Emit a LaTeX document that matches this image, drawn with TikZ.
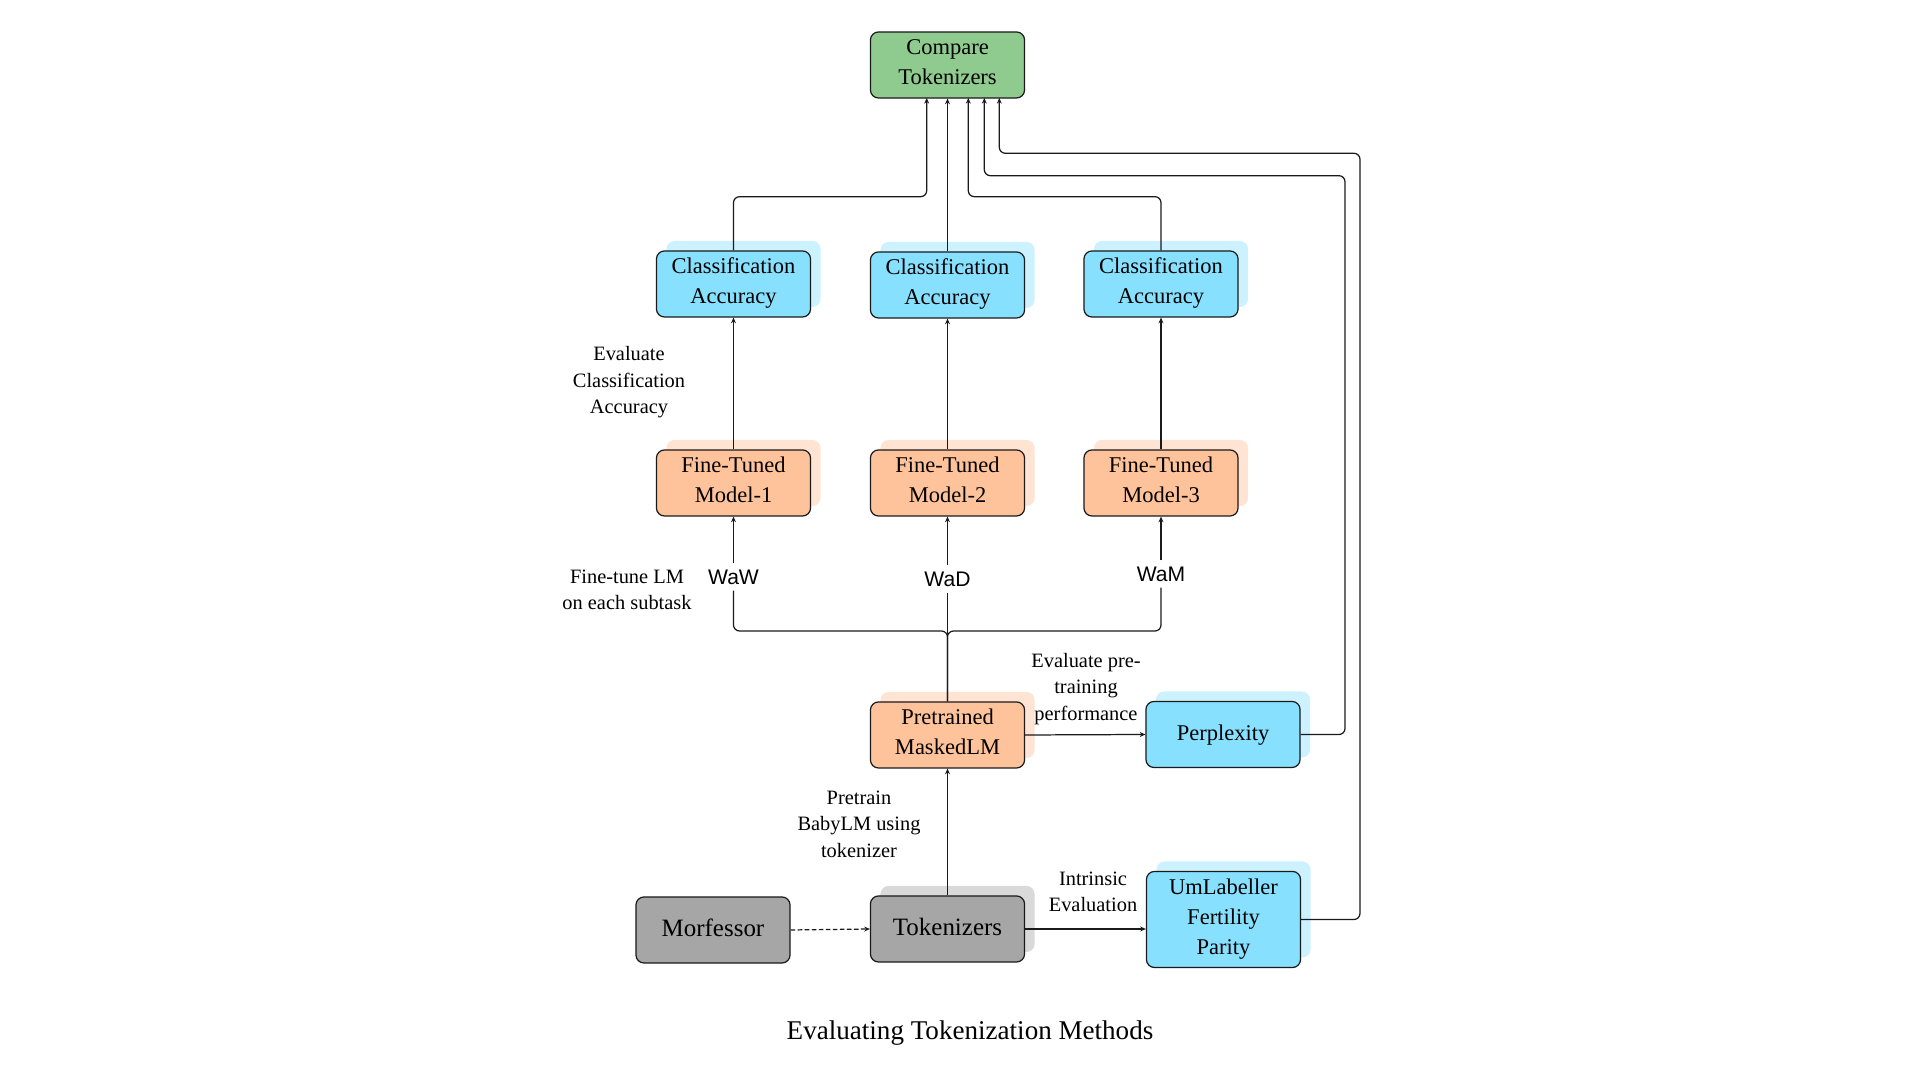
\documentclass[tikz,border=0pt]{standalone}
\usepackage{fontspec}
\setmainfont{Liberation Serif}
\newfontfamily\lblsans{Liberation Sans}
\usetikzlibrary{arrows.meta,shadows,calc}
\definecolor{cgreen}{HTML}{8FCA8F}
\definecolor{ccyan}{HTML}{88E0FF}
\definecolor{ccyansh}{HTML}{CDF2FF}
\definecolor{cpeach}{HTML}{FFC39B}
\definecolor{cpeachsh}{HTML}{FFE4D4}
\definecolor{cgray}{HTML}{A6A6A6}
\definecolor{cgraysh}{HTML}{D9D9D9}
\definecolor{cborder}{HTML}{1A1A1A}
\begin{document}
\begin{tikzpicture}[x=0.01cm,y=-0.01cm,
  line/.style={draw=cborder,line width=0.35pt},
  arr/.style={line,-{Stealth[length=1.6pt,width=1.4pt]}},
  boxbase/.style={draw=cborder,line width=0.35pt,rounded corners=0.08cm,
    minimum width=1.54cm,minimum height=0.66cm,inner sep=0pt,align=center,
    font=\fontsize{6.4}{8.5}\selectfont},
  box/.style={boxbase,
    execute at begin node={\rule{0pt}{6.8pt}},
    execute at end node={\rule[-1.7pt]{0pt}{0pt}}},
  sbox/.style={boxbase,
    execute at begin node=\strut,execute at end node=\strut},
  tallbox/.style={box,minimum height=0.96cm},
  bigtxt/.style={font=\fontsize{7.1}{9}\selectfont},
  shcyan/.style={general shadow={fill=ccyansh,shadow xshift=0.1cm,shadow yshift=0.1cm}},
  shpeach/.style={general shadow={fill=cpeachsh,shadow xshift=0.1cm,shadow yshift=0.1cm}},
  shgray/.style={general shadow={fill=cgraysh,shadow xshift=0.1cm,shadow yshift=0.1cm}},
  edgelbl/.style={align=center,inner sep=0pt,font=\fontsize{5.8}{7.5}\selectfont},
  wlbl/.style={fill=white,inner sep=1.6pt,font=\lblsans\fontsize{6}{7}\selectfont}
]
\useasboundingbox (0,0) rectangle (1920,1080);

% nodes
\node[box,fill=cgreen] (cmp) at (947.5,65) {Compare\\Tokenizers};

\node[box,fill=ccyan,shcyan] (ca1) at (733.5,284) {Classification\\Accuracy};
\node[box,fill=ccyan,shcyan] (ca2) at (947.5,285) {Classification\\Accuracy};
\node[box,fill=ccyan,shcyan] (ca3) at (1161,284) {Classification\\Accuracy};

\node[box,fill=cpeach,shpeach] (ft1) at (733.5,483) {Fine-Tuned\\Model-1};
\node[box,fill=cpeach,shpeach] (ft2) at (947.5,483) {Fine-Tuned\\Model-2};
\node[box,fill=cpeach,shpeach] (ft3) at (1161,483) {Fine-Tuned\\Model-3};

\node[box,fill=cpeach,shpeach] (pre) at (947.5,735) {Pretrained\\MaskedLM};
\node[sbox,fill=ccyan,shcyan] (ppl) at (1223,734.5) {Perplexity};

\node[sbox,bigtxt,fill=cgray] (mor) at (713,930) {Morfessor};
\node[sbox,bigtxt,fill=cgray,shgray] (tok) at (947.5,929) {Tokenizers};
\node[tallbox,fill=ccyan,shcyan] (uml) at (1223.5,919.5) {UmLabeller\\Fertility\\Parity};

% WaX labels
\node[wlbl] (waw) at (733.5,577) {WaW};
\node[wlbl] (wad) at (947.5,579) {WaD};
\node[wlbl] (wam) at (1161,574) {WaM};

% edge labels
\node[edgelbl] (lA) at (629,382.5) {Evaluate\\Classification\\Accuracy};
\node[edgelbl] (lB) at (627,590) {Fine-tune LM\\on each subtask};
\node[edgelbl] (lC) at (1086,689) {Evaluate pre-\\training\\performance};
\node[edgelbl] (lD) at (859,824) {Pretrain\\BabyLM using\\tokenizer};
\node[edgelbl] (lE) at (1093,892) {Intrinsic\\Evaluation};

\node[font=\fontsize{7.7}{9}\selectfont] (cap) at (970,1033.5) {Evaluating Tokenization Methods};

% helper coordinates
\coordinate (in1) at (926.7,98);
\coordinate (in3) at (968.3,98);
\coordinate (in4) at (984.3,98);
\coordinate (in5) at (999.3,98);
\coordinate (h1) at (0,196.7);
\coordinate (r1) at (1345,175.7);
\coordinate (r2) at (1360,153.3);
\coordinate (br) at (0,631);

% connectors to Compare
\draw[arr,rounded corners=0.06cm] (ca1.north) -- (ca1.north |- h1) -| (in1);
\draw[arr] (ca2.north) -- (cmp.south);
\draw[arr,rounded corners=0.06cm] (ca3.north) -- (ca3.north |- h1) -| (in3);
\draw[arr,rounded corners=0.06cm] (ppl.east) -| (r1) -| (in4);
\draw[arr,rounded corners=0.06cm] (uml.east) -| (r2) -| (in5);

% fine-tuned to class acc
\draw[arr] (ft1.north) -- (ca1.south);
\draw[arr] (ft2.north) -- (ca2.south);
\draw[arr] (ft3.north) -- (ca3.south);

% bracket from pretrained
\draw[line,rounded corners=0.06cm] (pre.north) -- (pre.north |- br) -| (waw.south);
\draw[line,rounded corners=0.06cm] (pre.north) -- (pre.north |- br) -| (wam.south);
\draw[line] (pre.north) -- (wad.south);
\draw[arr] (waw.north) -- (ft1.south);
\draw[arr] (wad.north) -- (ft2.south);
\draw[arr] (wam.north) -- (ft3.south);

% lower part
\draw[arr] (pre.east) -- (ppl.west);
\draw[arr] (tok.north) -- (pre.south);
\draw[arr] (tok.east) -- (tok.east -| uml.west);
\draw[arr,dash pattern=on 1.3pt off 0.7pt] (mor.east) -- (tok.west);
\end{tikzpicture}
\end{document}
